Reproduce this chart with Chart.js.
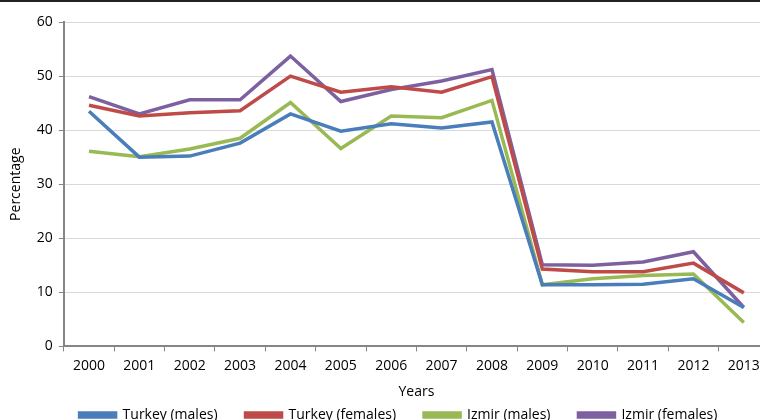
<!DOCTYPE html>
<html>
<head>
<meta charset="utf-8">
<script src="https://cdn.jsdelivr.net/npm/chart.js@4.4.0/dist/chart.umd.min.js"></script>
<style>
  html, body { margin: 0; padding: 0; background: #fff; overflow: hidden; }
  #wrap { position: relative; width: 772px; height: 432px; }
  #topline { position: absolute; left: 0; top: 0; width: 772px; height: 2px; background: #222; }
</style>
</head>
<body>
<div id="wrap">
  <canvas id="myChart" width="772" height="432"></canvas>
  <div id="topline"></div>
</div>
<script>
// Datos
const years = ["2000", "2001", "2002", "2003", "2004", "2005", "2006", "2007", "2008", "2009", "2010", "2011", "2012", "2013"];
const turkeyMales = [43.5, 35.0, 35.2, 37.6, 43.0, 39.8, 41.2, 40.4, 41.5, 11.4, 11.4, 11.5, 12.5, 7.2];
const turkeyFemales = [44.6, 42.6, 43.2, 43.6, 50.0, 47.0, 48.0, 47.0, 49.9, 14.3, 13.8, 13.8, 15.4, 9.9];
const izmirMales = [36.1, 35.1, 36.5, 38.5, 45.1, 36.6, 42.6, 42.3, 45.5, 11.4, 12.5, 13.1, 13.4, 4.4];
const izmirFemales = [46.2, 43.0, 45.6, 45.6, 53.7, 45.3, 47.5, 49.1, 51.2, 15.1, 15.0, 15.6, 17.5, 7.2];

const FONT = "'Open Sans', sans-serif";
const ctx = document.getElementById("myChart").getContext("2d");

function serie(label, data, color) {
  return {
    label: label,
    data: data,
    borderColor: color,
    backgroundColor: color,
    borderWidth: 3.5,
    pointRadius: 0,
    tension: 0,
  };
}

// Correr la leyenda un poco a la derecha (como en el original)
const moverLeyenda = {
  id: "moverLeyenda",
  afterLayout(chart) {
    chart.legend.left += 10;
    chart.legend.right += 10;
  },
};

const myChart = new Chart(ctx, {
  type: "line",
  data: {
    labels: years,
    datasets: [
      serie("Turkey (males)", turkeyMales, "#4a7ebb"),
      serie("Turkey (females)", turkeyFemales, "#be4b48"),
      serie("Izmir (males)", izmirMales, "#98b954"),
      serie("Izmir (females)", izmirFemales, "#7d60a0"),
    ],
  },
  plugins: [moverLeyenda],
  options: {
    responsive: false,
    animation: false,
    layout: { padding: { left: 8, right: 3, top: 22, bottom: 0 } },
    plugins: {
      tooltip: { enabled: false },
      legend: {
        position: "bottom",
        labels: {
          boxWidth: 36,
          boxHeight: 4,
          padding: 28,
          color: "#000",
          font: { family: FONT, size: 14 },
        },
      },
    },
    scales: {
      x: {
        offset: true,
        grid: { offset: true, drawOnChartArea: false, tickLength: 5, color: "#868686" },
        border: { color: "#868686", width: 2 },
        ticks: { color: "#000", font: { family: FONT, size: 14 }, maxRotation: 0, padding: 6 },
        title: { display: true, text: "Years", color: "#000", font: { family: FONT, size: 14 }, padding: { top: 3, bottom: -20 } },
      },
      y: {
        min: 0,
        max: 60,
        ticks: { stepSize: 10, color: "#000", font: { family: FONT, size: 14 }, padding: 6 },
        grid: { color: "#d9d9d9", tickColor: "#868686", tickLength: 5 },
        border: { color: "#868686", width: 2 },
        title: { display: true, text: "Percentage", color: "#000", font: { family: FONT, size: 14 }, padding: { top: 0, bottom: 6 } },
      },
    },
  },
});
</script>
</body>
</html>
